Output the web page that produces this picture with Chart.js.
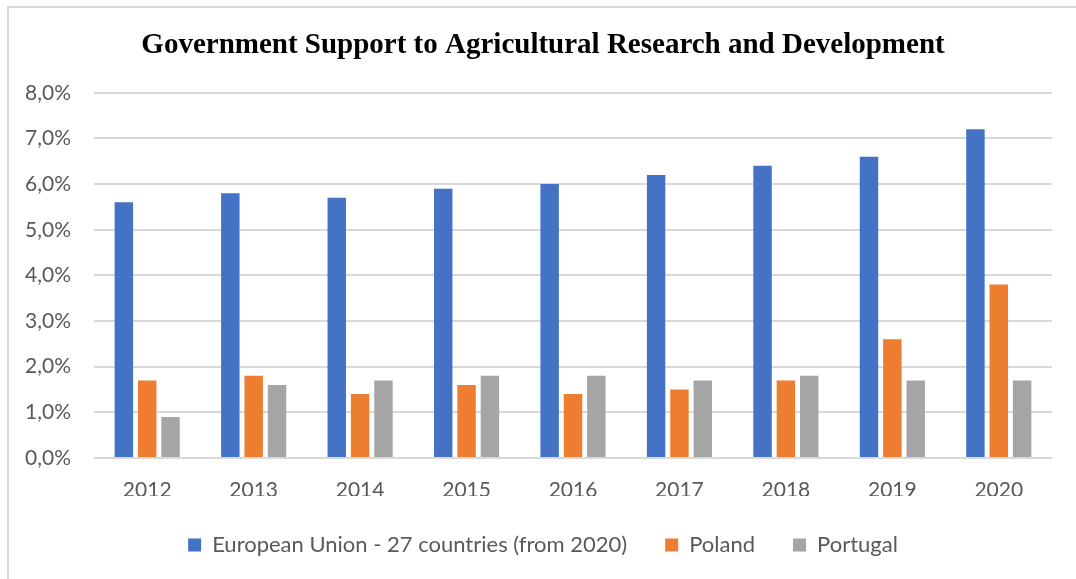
<!DOCTYPE html>
<html>
<head>
<meta charset="utf-8">
<script src="https://cdn.jsdelivr.net/npm/chart.js@4.4.1/dist/chart.umd.min.js"></script>
<style>
  html, body { margin: 0; padding: 0; background: #ffffff; overflow: hidden; }
  #wrap { position: absolute; left: 0; top: 0; width: 1076px; height: 579px; }
  #frame { position: absolute; left: 7px; top: 6px; width: 1100px; height: 600px;
           border-left: 2px solid #d9d9d9; border-top: 2px solid #d9d9d9; pointer-events: none; }
  canvas { position: absolute; left: 0; top: 0; }
</style>
</head>
<body>
<div id="wrap">
  <canvas id="chart" width="1076" height="579"></canvas>
  <div id="frame"></div>
</div>
<script>
const years = ['2012', '2013', '2014', '2015', '2016', '2017', '2018', '2019', '2020'];
const euValues = [5.6, 5.8, 5.7, 5.9, 6.0, 6.2, 6.4, 6.6, 7.2];
const polandValues = [1.7, 1.8, 1.4, 1.6, 1.4, 1.5, 1.7, 2.6, 3.8];
const portugalValues = [0.9, 1.6, 1.7, 1.8, 1.8, 1.7, 1.8, 1.7, 1.7];
const seriesNames = ['European Union - 27 countries (from 2020)', 'Poland', 'Portugal'];
const chartTitle = 'Government Support to Agricultural Research and Development';

const textColor = '#595959';
const gridColor = '#d9d9d9';
const sansFont = 'Lato, "Open Sans", sans-serif';

function makeSet(label, data, color) {
  return {
    label: label,
    data: data,
    backgroundColor: color,
    borderWidth: 0,
    categoryPercentage: 0.658,
    barPercentage: 0.79
  };
}

new Chart(document.getElementById('chart'), {
  type: 'bar',
  data: {
    labels: years,
    datasets: [
      makeSet(seriesNames[0], euValues, '#4472C4'),
      makeSet(seriesNames[1], polandValues, '#ED7D31'),
      makeSet(seriesNames[2], portugalValues, '#A5A5A5')
    ]
  },
  options: {
    responsive: false,
    animation: false,
    devicePixelRatio: 1,
    layout: { padding: { left: 10, right: 0, top: 0, bottom: 13 } },
    plugins: {
      title: {
        display: true,
        text: chartTitle,
        color: '#000000',
        font: { family: '"Liberation Serif", "Times New Roman", serif', size: 29, weight: 'bold' },
        padding: { top: 28, bottom: 30 }
      },
      legend: {
        position: 'bottom',
        labels: {
          color: textColor,
          font: { family: sansFont, size: 22 },
          boxWidth: 13,
          boxHeight: 13,
          padding: 38
        }
      },
      tooltip: { enabled: false }
    },
    scales: {
      x: {
        grid: { display: false },
        border: { display: false },
        ticks: { color: textColor, font: { family: sansFont, size: 21 }, padding: 12 },
        afterFit: (s) => { s.height = 38; }
      },
      y: {
        min: 0,
        max: 8,
        ticks: {
          stepSize: 1,
          color: textColor,
          padding: 23,
          font: { family: sansFont, size: 21 },
          callback: (v) => v.toFixed(1).replace('.', ',') + '%'
        },
        grid: { color: gridColor, lineWidth: 2, drawTicks: false },
        border: { display: false },
        afterFit: (s) => { s.width = 84; }
      },
      yRight: {
        position: 'right',
        display: true,
        grid: { display: false },
        border: { display: false },
        ticks: { display: false },
        afterFit: (s) => { s.width = 24; }
      }
    }
  }
});
</script>
</body>
</html>
